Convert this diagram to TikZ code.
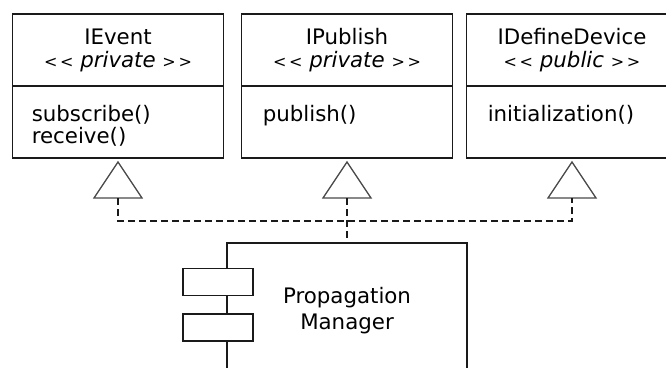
\documentclass[tikz,border=0pt]{standalone}
\usepackage{fontspec}
\setmainfont{DejaVu Sans}
\usetikzlibrary{positioning,calc}
\definecolor{umlline}{HTML}{1A1A1A}
\definecolor{umltri}{HTML}{4A4A4A}
\def\px{0.75pt}
\newcommand{\stereo}[1]{{\fontsize{12}{12}\selectfont<\,<}~\textit{#1}~{\fontsize{12}{12}\selectfont>\,>}}

\begin{document}
\begin{tikzpicture}[x=0.75pt,y=-0.75pt,
    iface/.style={draw=umlline,line width=1.3pt,inner sep=0pt,outer sep=0pt,
      minimum width=211*\px,minimum height=72*\px,align=center,
      font=\fontsize{16}{17.25}\selectfont},
    opsbox/.style={draw=umlline,line width=1.3pt,inner sep=0pt,outer sep=0pt,
      minimum width=211*\px,minimum height=72*\px},
    optext/.style={anchor=north west,inner sep=0pt,align=left,
      font=\fontsize{16}{16.5}\selectfont},
    realize/.style={draw=umltri,line width=1pt,line join=miter},
    wire/.style={draw=umlline,line width=1.1pt,dash pattern=on 5.25pt off 3pt},
    compbox/.style={draw=umlline,line width=1.3pt,inner sep=0pt,outer sep=0pt,
      minimum width=240*\px,minimum height=200*\px},
    portbox/.style={draw=umlline,fill=white,line width=1.3pt,inner sep=0pt,
      minimum width=70*\px,minimum height=27*\px}]
    \useasboundingbox (0,0) rectangle (666,367);
    \clip (0,0) rectangle (666,367);
    % --- interfaces ---
    \node[iface] (evt) at (118,50) {IEvent\\\stereo{private}};
    \node[opsbox,below=0pt of evt] (evtops) {};
    \node[optext] (evttxt) at ($(evtops.north west)+(19,19)$) {subscribe()\\receive()};

    \node[iface] (pub) at (347,50) {IPublish\\\stereo{private}};
    \node[opsbox,below=0pt of pub] (pubops) {};
    \node[optext] (pubtxt) at ($(pubops.north west)+(21,19)$) {publish()};

    \node[iface] (dev) at (572,50) {IDefineDevice\\\stereo{public}};
    \node[opsbox,below=0pt of dev] (devops) {};
    \node[optext] (devtxt) at ($(devops.north west)+(21,19)$) {initialization()};

    % realization triangles
    \foreach \n in {evt,pub,dev}{
      \coordinate (\n-tip) at ($(\n ops.south)+(0,4)$);
      \coordinate (\n-base) at ($(\n-tip)+(0,36)$);
      \draw[realize] (\n-tip) -- ($(\n-base)+(24,0)$) -- ($(\n-base)+(-24,0)$) -- cycle;
    }

    % --- component ---
    \node[compbox,anchor=north] (mgr) at (347,243) {};
    \node[align=center,inner sep=0pt,font=\fontsize{16}{19.5}\selectfont] (mgrlbl) at (347,311) {Propagation\\Manager};
    \node[portbox] (port1) at (218,282) {};
    \node[portbox] (port2) at (218,327.5) {};

    % dashed connectors
    \coordinate (bus) at (0,221);
    \draw[wire] (evt-base) -- (evt-base |- bus) -- (dev-base |- bus) -- (dev-base);
    \draw[wire] (pub-base) -- (pub-base |- mgr.north);
\end{tikzpicture}
\end{document}
